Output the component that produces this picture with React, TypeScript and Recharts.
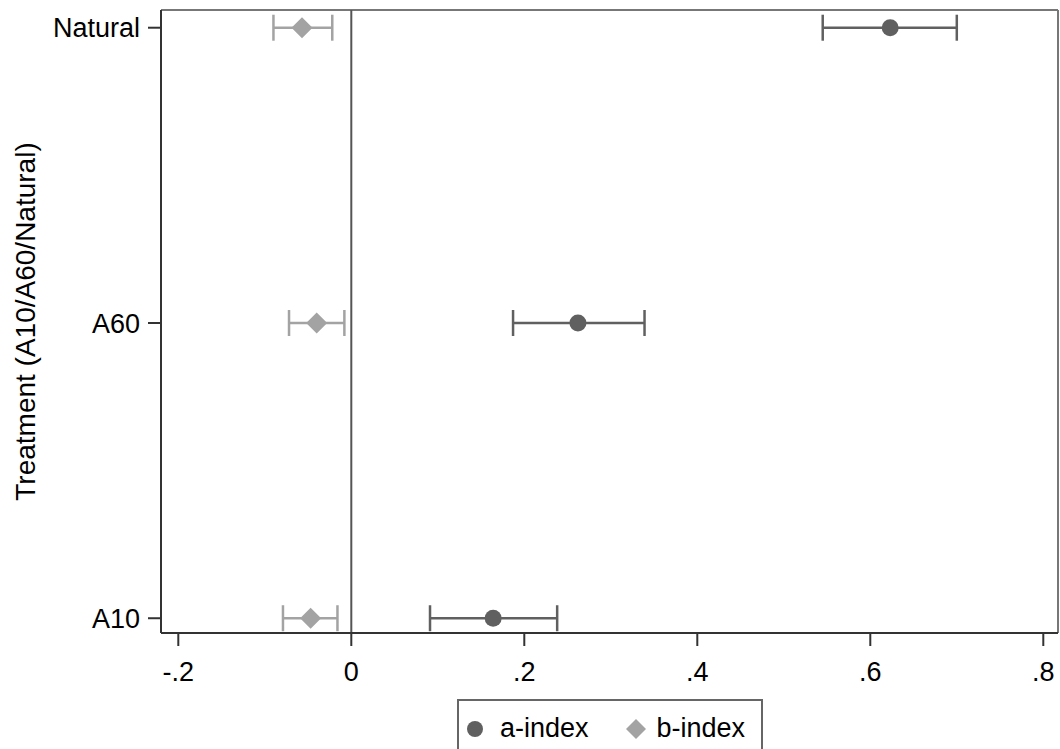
import React from 'react';
import {
  ScatterChart,
  Scatter,
  ErrorBar,
  XAxis,
  YAxis,
  ReferenceLine,
  Legend
} from 'recharts';

// treatments, bottom to top
const categories = ['A10', 'A60', 'Natural'];

// a-index estimates with 95% CI
const aIndex = [0.164, 0.262, 0.623];
const aLow = [0.091, 0.187, 0.545];
const aHigh = [0.238, 0.339, 0.7];

// b-index estimates with 95% CI
const bIndex = [-0.047, -0.04, -0.057];
const bLow = [-0.079, -0.072, -0.09];
const bHigh = [-0.016, -0.008, -0.022];

const xTicks = [-0.2, 0, 0.2, 0.4, 0.6, 0.8];
const X_DOMAIN: [number, number] = [-0.22, 0.817];
const Y_DOMAIN: [number, number] = [0.95, 3.06];

const FONT = '"Liberation Sans", Arial, sans-serif';
const A_COLOR = '#606060';
const B_COLOR = '#a3a3a3';

const buildRows = (est: number[], lo: number[], hi: number[]) =>
  categories.map((name, i) => ({
    name,
    y: i + 1,
    x: est[i],
    err: [est[i] - lo[i], hi[i] - est[i]]
  }));

const aRows = buildRows(aIndex, aLow, aHigh);
const bRows = buildRows(bIndex, bLow, bHigh);

const fmtX = (v: number) => {
  if (v === 0) return '0';
  return v.toFixed(1).replace('0.', '.');
};

const Dot = (props: any) => (
  <circle cx={props.cx} cy={props.cy} r={8.5} fill={A_COLOR} />
);

const Diamond = (props: any) => {
  const { cx, cy } = props;
  const r = 10.5;
  return (
    <path
      d={`M${cx},${cy - r}L${cx + r},${cy}L${cx},${cy + r}L${cx - r},${cy}Z`}
      fill={B_COLOR}
    />
  );
};

const LegendBox = () => (
  <div
    style={{
      border: '2px solid #666',
      width: 306,
      height: 60,
      display: 'flex',
      alignItems: 'flex-start',
      paddingTop: 10,
      boxSizing: 'border-box',
      fontFamily: FONT,
      fontSize: 27,
      color: '#000'
    }}
  >
    <svg width={18} height={18} style={{ marginLeft: 7, marginTop: 9 }}>
      <circle cx={9} cy={9} r={8} fill={A_COLOR} />
    </svg>
    <span style={{ marginLeft: 16, lineHeight: '34px' }}>a-index</span>
    <svg width={22} height={22} style={{ marginLeft: 36, marginTop: 7 }}>
      <path d="M11,1L21,11L11,21L1,11Z" fill={B_COLOR} />
    </svg>
    <span style={{ marginLeft: 10, lineHeight: '34px' }}>b-index</span>
  </div>
);

export default function App() {
  return (
    <div style={{ position: 'absolute', left: 0, top: 0, background: '#fff' }}>
      <ScatterChart
        width={1060}
        height={749}
        margin={{ top: 10, right: 2, bottom: 56, left: 0 }}
      >
        <XAxis
          type="number"
          dataKey="x"
          domain={X_DOMAIN}
          allowDataOverflow
          ticks={xTicks}
          tickFormatter={fmtX}
          height={60}
          tickSize={13}
          tickMargin={16}
          stroke="#333"
          strokeWidth={2}
          tick={{ fontSize: 27, fill: '#000', fontFamily: FONT }}
        />
        <YAxis
          type="number"
          dataKey="y"
          domain={Y_DOMAIN}
          allowDataOverflow
          ticks={[1, 2, 3]}
          tickFormatter={(v: number) => categories[v - 1]}
          width={161}
          tickSize={13}
          tickMargin={8}
          stroke="#333"
          strokeWidth={2}
          tick={{ fontSize: 27, fill: '#000', fontFamily: FONT }}
          label={{
            value: 'Treatment (A10/A60/Natural)',
            angle: -90,
            position: 'insideLeft',
            offset: 25,
            style: { textAnchor: 'middle', fontSize: 28, fill: '#000', fontFamily: FONT }
          }}
        />
        {/* plot region frame, top and right */}
        <ReferenceLine y={Y_DOMAIN[1]} stroke="#777" strokeWidth={2} />
        <ReferenceLine x={X_DOMAIN[1]} stroke="#777" strokeWidth={2} />
        <ReferenceLine x={0} stroke="#555" strokeWidth={2} />
        <Scatter
          name="a-index"
          data={aRows}
          fill={A_COLOR}
          shape={Dot}
          isAnimationActive={false}
        >
          <ErrorBar
            dataKey="err"
            direction="x"
            width={13}
            stroke={A_COLOR}
            strokeWidth={2.5}
          />
        </Scatter>
        <Scatter
          name="b-index"
          data={bRows}
          fill={B_COLOR}
          shape={Diamond}
          isAnimationActive={false}
        >
          <ErrorBar
            dataKey="err"
            direction="x"
            width={13}
            stroke={B_COLOR}
            strokeWidth={2.5}
          />
        </Scatter>
        <Legend
          layout="horizontal"
          verticalAlign="middle"
          align="center"
          content={LegendBox}
          wrapperStyle={{ left: 457, top: 699, width: 306 }}
        />
      </ScatterChart>
    </div>
  );
}
